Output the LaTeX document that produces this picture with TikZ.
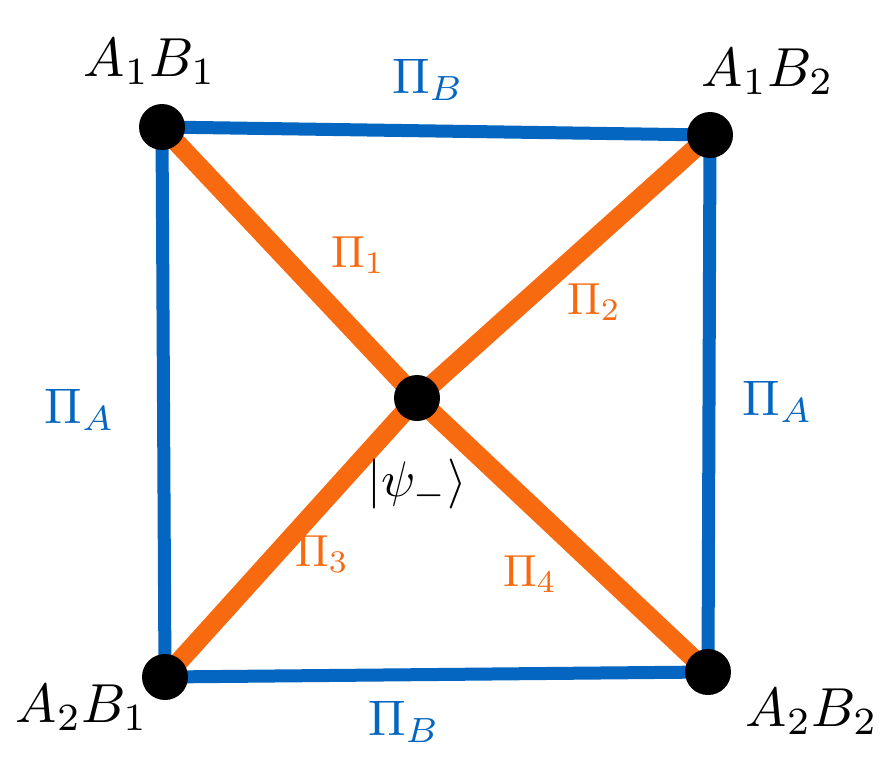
\documentclass[tikz,border=0pt]{standalone}
\usepackage{amsmath}
\usepackage{graphicx}
\definecolor{pblue}{HTML}{0466C0}
\definecolor{porange}{HTML}{F86A10}
\tikzset{
  blueedge/.style={draw=pblue,line width=13pt,line cap=round},
  orangeedge/.style={draw=porange,line width=19pt,line cap=round},
  dot/.style={circle,fill=black,minimum size=46pt,inner sep=0pt},
  vlabel/.style={text=black,inner sep=0pt},
  blab/.style={text=pblue,inner sep=0pt},
  olab/.style={text=porange,inner sep=0pt},
}
\newcommand{\bigtxt}[2]{\scalebox{#1}{#2}}
\begin{document}
\begin{tikzpicture}[x=1pt,y=-1pt]
\useasboundingbox (0,0) rectangle (886,761);
\fill[white] (0,0) rectangle (886,761);
\coordinate (tl) at (162,127);
\coordinate (tr) at (710,135);
\coordinate (bl) at (165,677);
\coordinate (br) at (708,672);
\coordinate (c) at (417,398);
% blue square
\draw[blueedge] (tl) -- (tr);
\draw[blueedge] (tr) -- (br);
\draw[blueedge] (br) -- (bl);
\draw[blueedge] (bl) -- (tl);
% orange diagonals
\draw[orangeedge] (tl) -- (c);
\draw[orangeedge] (c) -- (br);
\draw[orangeedge] (tr) -- (c);
\draw[orangeedge] (c) -- (bl);
% dots
\node[dot] (tlDot) at (tl) {};
\node[dot] (trDot) at (tr) {};
\node[dot] (blDot) at (bl) {};
\node[dot] (brDot) at (br) {};
\node[dot] (cDot) at (c) {};
% vertex labels
\node[vlabel] (ltl) at (150,62) {\bigtxt{5.5}{$A_1B_1$}};
\node[vlabel] (ltr) at (768,72) {\bigtxt{5.5}{$A_1B_2$}};
\node[vlabel] (lbl) at (82,708) {\bigtxt{5.5}{$A_2B_1$}};
\node[vlabel] (lbr) at (812,712) {\bigtxt{5.5}{$A_2B_2$}};
% blue labels
\node[blab] (pbt) at (428,80) {\bigtxt{5}{$\Pi_B$}};
\node[blab] (pbb) at (404,722) {\bigtxt{5}{$\Pi_B$}};
\node[blab] (pal) at (80,410) {\bigtxt{5}{$\Pi_A$}};
\node[blab] (par) at (778,402) {\bigtxt{5}{$\Pi_A$}};
% orange labels
\node[olab] (p1) at (358,255) {\bigtxt{4.5}{$\Pi_1$}};
\node[olab] (p2) at (594,302) {\bigtxt{4.5}{$\Pi_2$}};
\node[olab] (p3) at (322,554) {\bigtxt{4.5}{$\Pi_3$}};
\node[olab] (p4) at (530,574) {\bigtxt{4.5}{$\Pi_4$}};
% state
\node[inner sep=0pt] (psi) at (417,484) {\bigtxt{5}{$|\psi_-\rangle$}};
\end{tikzpicture}
\end{document}
